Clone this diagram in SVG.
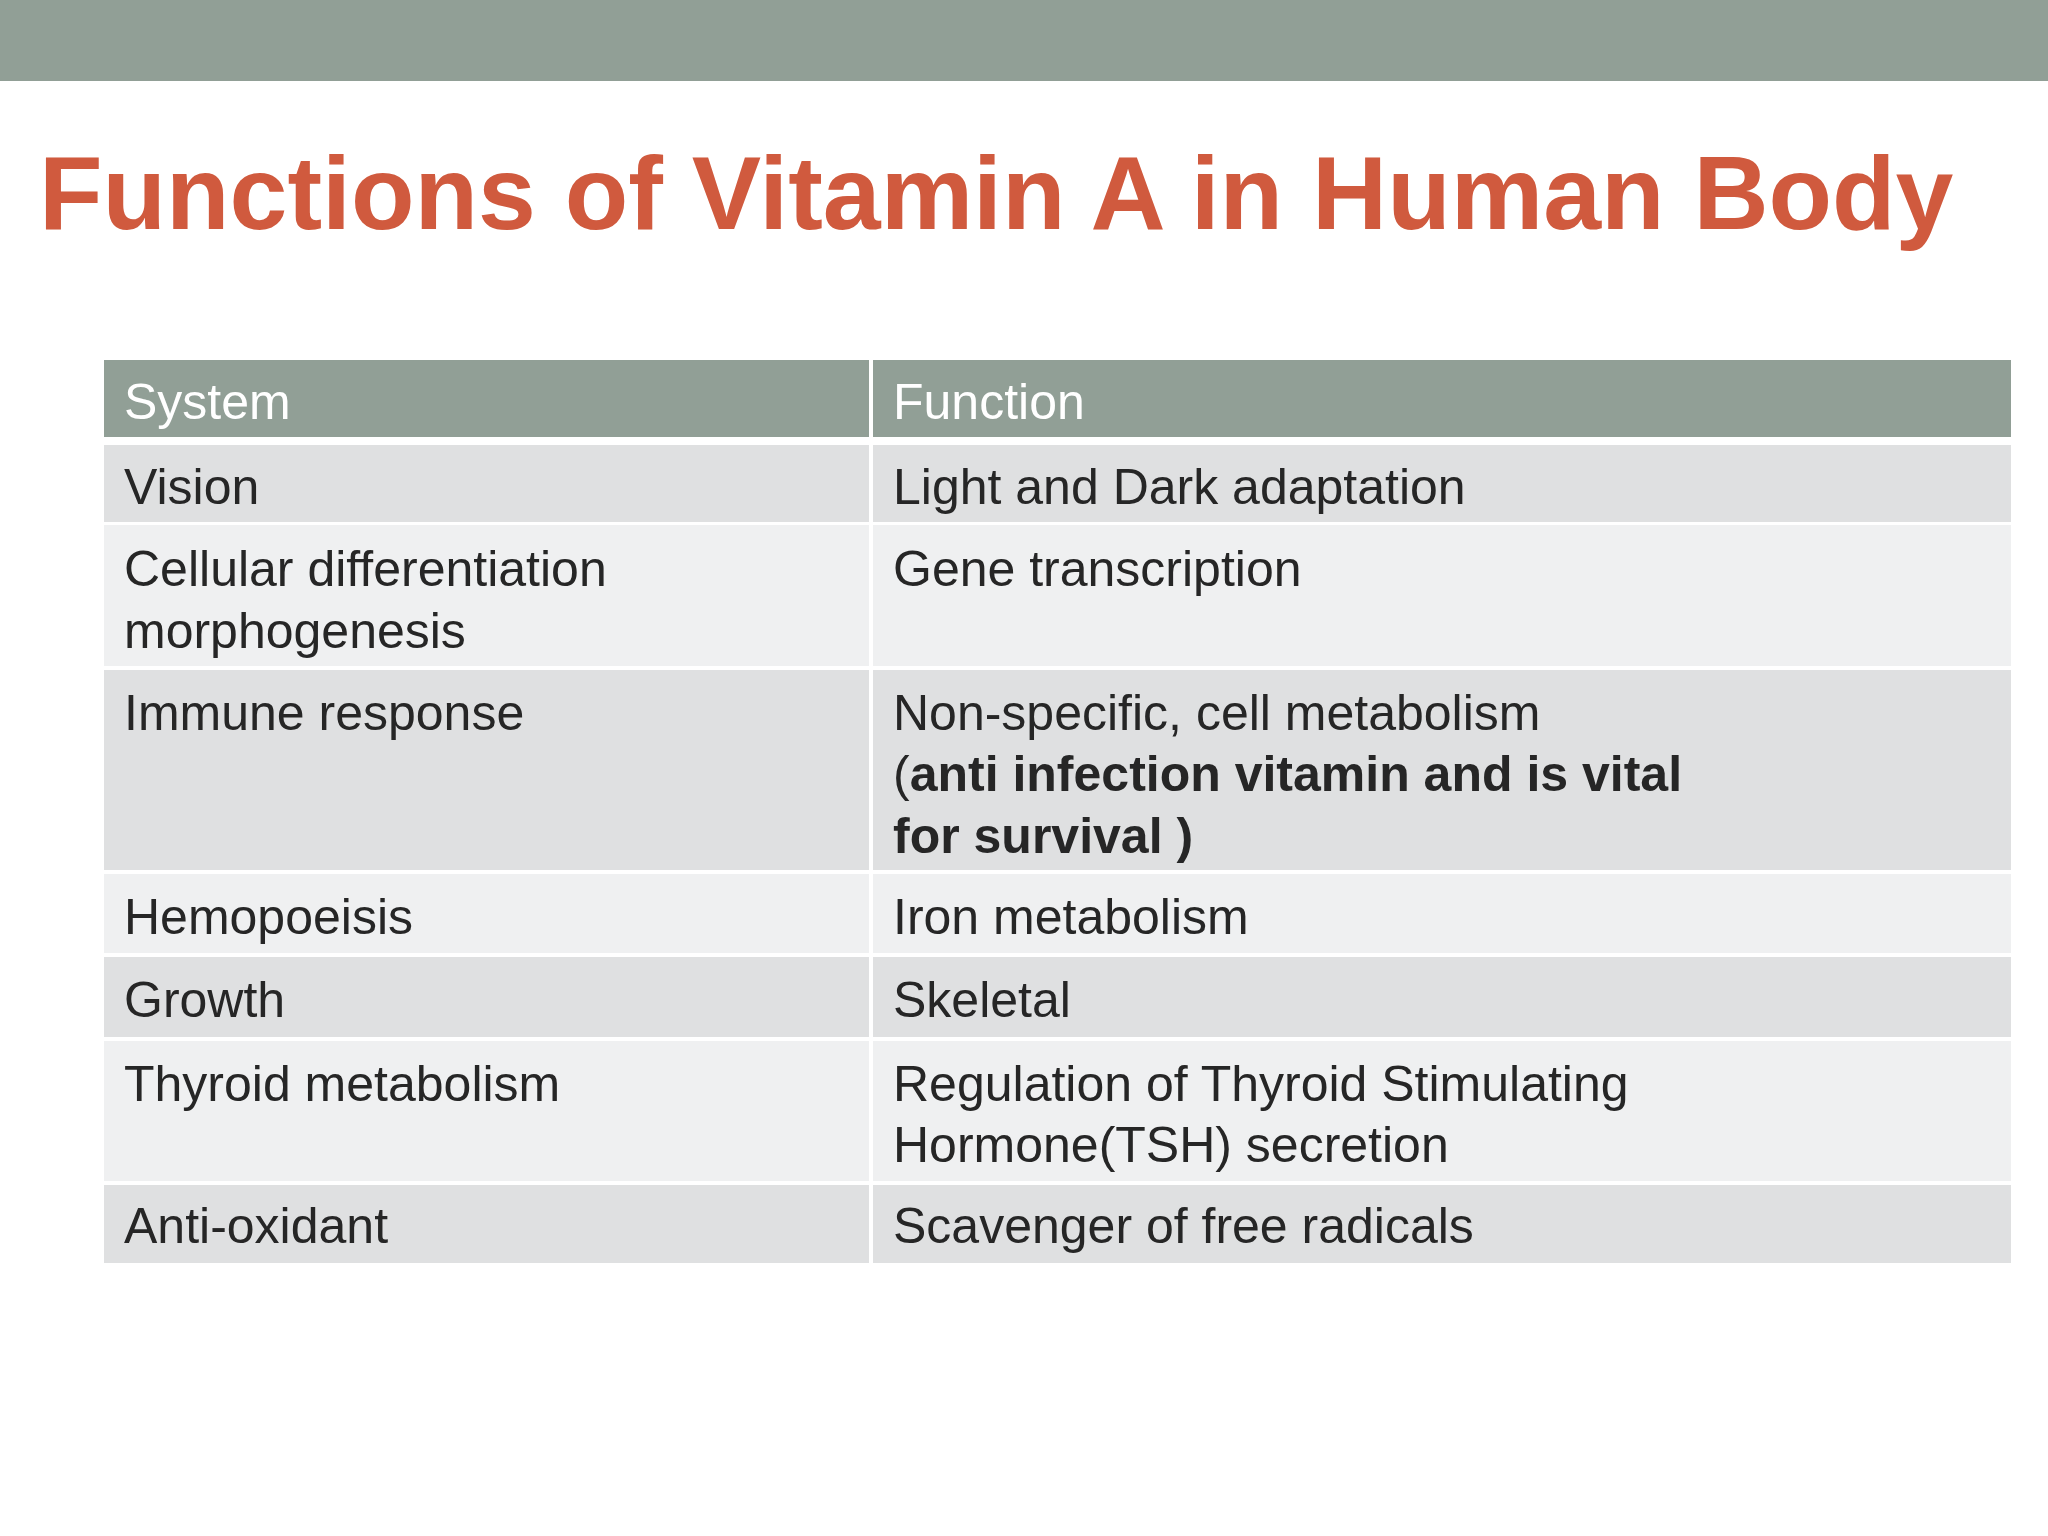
<svg xmlns="http://www.w3.org/2000/svg" width="2048" height="1536" viewBox="0 0 2048 1536">
<style>
.t{font-family:"Liberation Sans",Arial,sans-serif;font-size:50px;fill:#262626}
.h{font-family:"Liberation Sans",Arial,sans-serif;font-size:50px;fill:#ffffff}
.b{font-weight:bold}
.d{fill:#dfe0e1}.l{fill:#eff0f1}
</style>
<rect width="2048" height="1536" fill="#ffffff"/>
<rect x="0" y="0" width="2048" height="81" fill="#919f96"/>
<text x="39" y="229" font-family="Liberation Sans,Arial,sans-serif" font-weight="bold" font-size="104" fill="#d05a3e">Functions of Vitamin A in Human Body</text>
<g id="header">
<rect x="104" y="360" width="765" height="77" fill="#919f96"/>
<rect x="873" y="360" width="1138" height="77" fill="#919f96"/>
<text class="h" x="124" y="419">System</text>
<text class="h" x="893" y="419">Function</text>
</g>
<g id="row1"><rect class="d" x="104" y="445" width="765" height="77"/><rect class="d" x="873" y="445" width="1138" height="77"/>
<text class="t" x="124" y="504">Vision</text><text class="t" x="893" y="504">Light and Dark adaptation</text></g>
<g id="row2"><rect class="l" x="104" y="525" width="765" height="141"/><rect class="l" x="873" y="525" width="1138" height="141"/>
<text class="t" x="124" y="586">Cellular differentiation</text><text class="t" x="124" y="648">morphogenesis</text><text class="t" x="893" y="586">Gene transcription</text></g>
<g id="row3"><rect class="d" x="104" y="670" width="765" height="200"/><rect class="d" x="873" y="670" width="1138" height="200"/>
<text class="t" x="124" y="730">Immune response</text><text class="t" x="893" y="730">Non-specific, cell metabolism</text>
<text class="t" x="893" y="791">(<tspan class="b">anti infection vitamin and is vital</tspan></text><text class="t b" x="893" y="853">for survival )</text></g>
<g id="row4"><rect class="l" x="104" y="874" width="765" height="79"/><rect class="l" x="873" y="874" width="1138" height="79"/>
<text class="t" x="124" y="934">Hemopoeisis</text><text class="t" x="893" y="934">Iron metabolism</text></g>
<g id="row5"><rect class="d" x="104" y="957" width="765" height="80"/><rect class="d" x="873" y="957" width="1138" height="80"/>
<text class="t" x="124" y="1017">Growth</text><text class="t" x="893" y="1017">Skeletal</text></g>
<g id="row6"><rect class="l" x="104" y="1041" width="765" height="140"/><rect class="l" x="873" y="1041" width="1138" height="140"/>
<text class="t" x="124" y="1101">Thyroid metabolism</text><text class="t" x="893" y="1101">Regulation of Thyroid Stimulating</text><text class="t" x="893" y="1162">Hormone(TSH) secretion</text></g>
<g id="row7"><rect class="d" x="104" y="1185" width="765" height="78"/><rect class="d" x="873" y="1185" width="1138" height="78"/>
<text class="t" x="124" y="1243">Anti-oxidant</text><text class="t" x="893" y="1243">Scavenger of free radicals</text></g>
<g id="connectors"/>
</svg>
